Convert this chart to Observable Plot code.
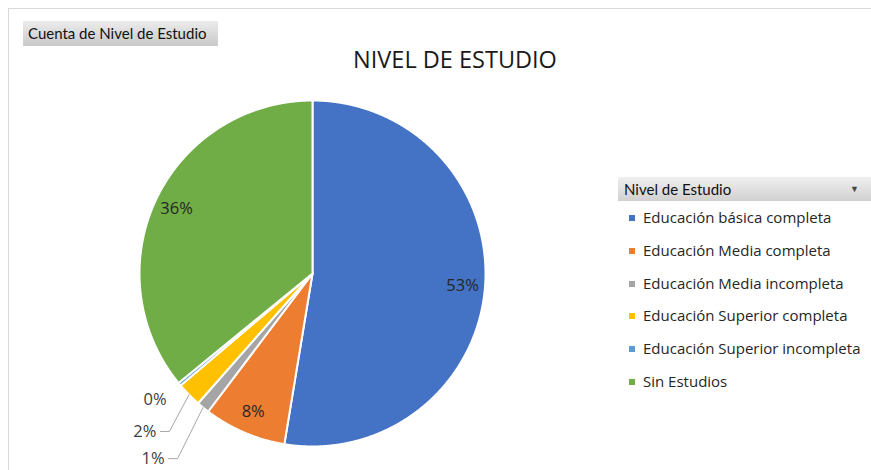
<!DOCTYPE html>
<html><head><meta charset="utf-8">
<script src="https://cdn.jsdelivr.net/npm/d3@7"></script>
<script src="https://cdn.jsdelivr.net/npm/@observablehq/plot@0.6"></script>
<style>
body{margin:0;background:#fff;}
#wrap{position:relative;width:871px;height:470px;overflow:hidden;background:#fff;}
#wrap svg{position:absolute;left:0;top:0;}
.frame{position:absolute;left:8px;top:8px;width:900px;height:500px;border-left:1px solid #d9d9d9;border-top:1px solid #d9d9d9;}
.btn{position:absolute;left:23px;top:21px;width:195px;height:25px;background:linear-gradient(#ececec,#c9c9c9);font-family:Lato,sans-serif;font-size:15px;color:#111;line-height:25px;padding-left:5px;box-sizing:border-box;}
.title{position:absolute;left:0;width:910px;top:43px;text-align:center;font-family:"Open Sans",sans-serif;font-size:23.5px;color:#1a1a1a;}
.lhead{position:absolute;left:618px;top:177px;width:253px;height:24px;background:linear-gradient(#f0f0f0,#d0d0d0);font-family:Lato,sans-serif;font-size:15px;color:#111;line-height:24px;padding-left:6px;box-sizing:border-box;}
.arrow{position:absolute;right:12px;top:0;font-size:9px;color:#444;}
.item{position:absolute;left:629px;font-family:"Open Sans",sans-serif;font-size:15px;color:#262626;white-space:nowrap;}
.sw{display:inline-block;width:6px;height:6px;margin-right:8px;vertical-align:middle;position:relative;top:-1px;}
</style></head><body><div id="wrap"></div>
<script>
const categories = ["Educación básica completa","Educación Media completa","Educación Media incompleta","Educación Superior completa","Educación Superior incompleta","Sin Estudios"];
const values = [52.6, 7.7, 1.2, 2.3, 0.3, 35.9];
const pctLabels = ["53%","8%","1%","2%","0%","36%"];
const colors = ["#4472C4","#ED7D31","#A5A5A5","#FFC000","#5B9BD5","#70AD47"];
const chartTitle = "NIVEL DE ESTUDIO";
const fieldButton = "Cuenta de Nivel de Estudio";
const legendTitle = "Nivel de Estudio";

// layout for outside labels (elbow points, in radius units)
const outsideLayout = {
  "Educación Media incompleta": {ex:-0.78, ey:-1.07, leader:true},
  "Educación Superior completa": {ex:-0.827, ey:-0.913, leader:true},
  "Educación Superior incompleta": {ex:-0.82, ey:-0.728, leader:false}
};

const total = d3.sum(values);
let acc = 0;
const slices = categories.map((c,i)=>{
  const a0 = acc/total*2*Math.PI; acc += values[i];
  const a1 = acc/total*2*Math.PI;
  return {cat:c, a0, a1, mid:(a0+a1)/2, label:pctLabels[i]};
});
const pts = [];
for (const s of slices){
  pts.push({cat:s.cat,x:0,y:0});
  const n = Math.max(2, Math.ceil((s.a1-s.a0)/0.005));
  for (let k=0;k<=n;k++){
    const a = s.a0+(s.a1-s.a0)*k/n;
    pts.push({cat:s.cat,x:Math.sin(a),y:Math.cos(a)});
  }
}
const inside = slices.filter(s=>!outsideLayout[s.cat]).map(s=>({x:0.87*Math.sin(s.mid),y:0.87*Math.cos(s.mid),text:s.label}));
const outside = slices.filter(s=>outsideLayout[s.cat]).map(s=>{
  const L = outsideLayout[s.cat];
  return {x:L.leader? L.ex-0.052 : L.ex, y:L.ey, text:s.label, leader:L.leader};
});
const leaders = [];
slices.forEach(s=>{
  const L = outsideLayout[s.cat];
  if (L && L.leader){
    leaders.push({cat:s.cat,x:1.0*Math.sin(s.mid),y:1.0*Math.cos(s.mid)});
    leaders.push({cat:s.cat,x:L.ex,y:L.ey});
    leaders.push({cat:s.cat,x:L.ex-0.052,y:L.ey});
  }
});

const plot = Plot.plot({
  width:871, height:470, margin:0,
  x:{domain:[-1,1], range:[139,485], axis:null},
  y:{domain:[-1,1], range:[446,100], axis:null},
  color:{domain:categories, range:colors},
  style:{fontFamily:"Open Sans", background:"transparent"},
  marks:[
    Plot.line(pts,{x:"x",y:"y",z:"cat",fill:"cat",stroke:"white",strokeWidth:2,curve:"linear-closed"}),
    Plot.line(leaders,{x:"x",y:"y",z:"cat",stroke:"#a6a6a6",strokeWidth:1}),
    Plot.text(inside,{x:"x",y:"y",text:"text",fill:"#262626",fontSize:16.5}),
    Plot.text(outside,{x:"x",y:"y",text:"text",fill:"#404040",fontSize:16.5,textAnchor:"end",dx:-4})
  ]
});

const wrap = document.getElementById("wrap");
const frame = document.createElement("div"); frame.className="frame"; wrap.appendChild(frame);
wrap.appendChild(plot);
const btn = document.createElement("div"); btn.className="btn"; btn.textContent=fieldButton; wrap.appendChild(btn);
const t = document.createElement("div"); t.className="title"; t.textContent=chartTitle; wrap.appendChild(t);
const lh = document.createElement("div"); lh.className="lhead"; lh.textContent=legendTitle;
const ar = document.createElement("span"); ar.className="arrow"; ar.textContent="▼"; lh.appendChild(ar);
wrap.appendChild(lh);
categories.forEach((c,i)=>{
  const d = document.createElement("div"); d.className="item";
  d.style.top = (207 + i*32.8)+"px";
  const sw = document.createElement("span"); sw.className="sw"; sw.style.background=colors[i];
  d.appendChild(sw); d.appendChild(document.createTextNode(c));
  wrap.appendChild(d);
});
</script></body></html>
